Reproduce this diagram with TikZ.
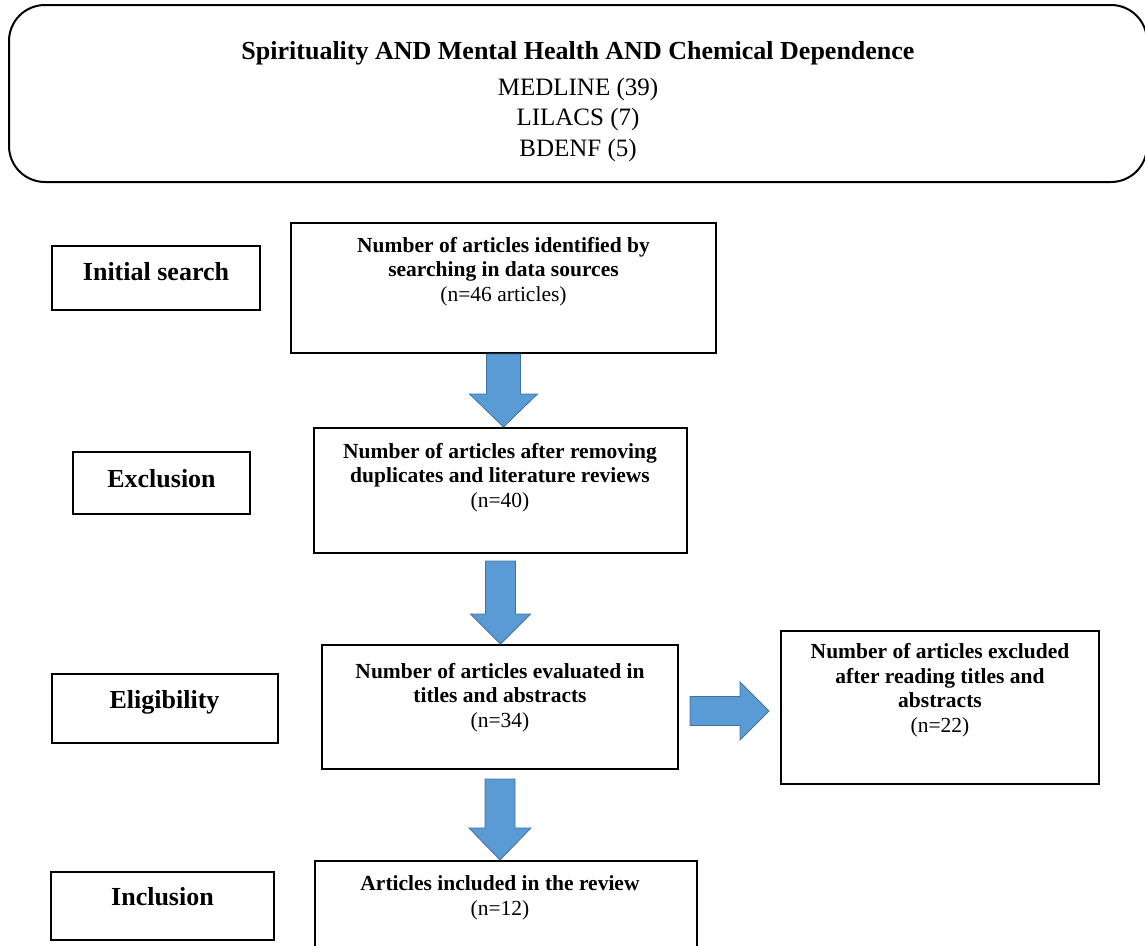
\documentclass[tikz,border=0pt]{standalone}
\usepackage{fontspec}
\setmainfont{Liberation Serif}
\usetikzlibrary{calc}
\definecolor{arrowfill}{HTML}{5B9BD5}
\definecolor{arrowline}{HTML}{41719C}
\newcommand\vblk[6]{%
  \path (#1.south) ++(0,#3) coordinate (vs);
  \path (vs |- #2.north) coordinate (ve);
  \filldraw[blk] ($(vs)+(-#4,0)$) -- ($(vs)+(#4,0)$) -- ($(ve)+(#4,-#6)$) -- ($(ve)+(#5,-#6)$) -- (ve) -- ($(ve)+(-#5,-#6)$) -- ($(ve)+(-#4,-#6)$) -- cycle;}
\begin{document}
\begin{tikzpicture}[x=1pt,y=-1pt,
  box/.style={draw, line width=2pt, rectangle, inner sep=0pt},
  lbl/.style={font=\bfseries\fontsize{26}{30}\selectfont, inner sep=0pt, anchor=base},
  txt/.style={align=center, font=\fontsize{21.5}{24.5}\selectfont, inner sep=0pt, anchor=base},
  blk/.style={fill=arrowfill, draw=arrowline, line width=0.8pt, line join=miter}]
\useasboundingbox (0,0) rectangle (1145,945);
% top box
\node[box, rounded corners=36pt, minimum width=1138pt, minimum height=177pt] (top) at (578,93.5) {};
\node[font=\bfseries\fontsize{26}{30}\selectfont, inner sep=0pt, anchor=base] (title) at (578,59) {Spirituality AND Mental Health AND Chemical Dependence};
\node[font=\fontsize{25}{30.5}\selectfont, inner sep=0pt, anchor=base, align=center] (dbs) at (578,156) {MEDLINE (39)\\LILACS (7)\\BDENF (5)};
% stage labels
\node[box, minimum width=208pt, minimum height=64pt] (is) at (156,278) {};
\node[lbl] (ist) at (156,280.7) {Initial search};
\node[box, minimum width=177pt, minimum height=62pt] (ex) at (161.5,483) {};
\node[lbl] (ext) at (161.5,487) {Exclusion};
\node[box, minimum width=226pt, minimum height=69pt] (el) at (164.5,708.5) {};
\node[lbl] (elt) at (164.5,708) {Eligibility};
\node[box, minimum width=223pt, minimum height=68pt] (in) at (162.5,906) {};
\node[lbl] (int) at (162.5,905) {Inclusion};
% flow boxes
\node[box, minimum width=425pt, minimum height=130pt] (b1) at (503.5,288) {};
\node[txt] (b1t) at (503.5,301) {\textbf{Number of articles identified by}\\\textbf{searching in data sources}\\(n=46 articles)};
\node[box, minimum width=373pt, minimum height=125pt] (b2) at (500.5,490.5) {};
\node[txt] (b2t) at (500,507) {\textbf{Number of articles after removing}\\\textbf{duplicates and literature reviews}\\(n=40)};
\node[box, minimum width=356pt, minimum height=124pt] (b3) at (500,707) {};
\node[txt] (b3t) at (500,727) {\textbf{Number of articles evaluated in}\\\textbf{titles and abstracts}\\(n=34)};
\node[box, minimum width=318pt, minimum height=153pt] (b4) at (940,707.5) {};
\node[txt] (b4t) at (940,732) {\textbf{Number of articles excluded}\\\textbf{after reading titles and}\\\textbf{abstracts}\\(n=22)};
\node[box, minimum width=382pt, minimum height=100pt] (b5) at (506,911) {};
\node[txt] (b5t) at (500,915) {\textbf{Articles included in the review}\\(n=12)};
% block arrows
\vblk{b1}{b2}{0}{17}{34}{33}
\vblk{b2}{b3}{7}{15}{30}{30}
\vblk{b3}{b5}{9}{15}{31}{32}
\path (b3.east) ++(11,4) coordinate (hs);
\path (hs -| b4.west) ++(-11,0) coordinate (he);
\filldraw[blk] ($(hs)+(0,-14.5)$) -- ($(he)+(-29,-14.5)$) -- ($(he)+(-29,-29)$) -- (he) -- ($(he)+(-29,29)$) -- ($(he)+(-29,14.5)$) -- ($(hs)+(0,14.5)$) -- cycle;
\end{tikzpicture}
\end{document}
